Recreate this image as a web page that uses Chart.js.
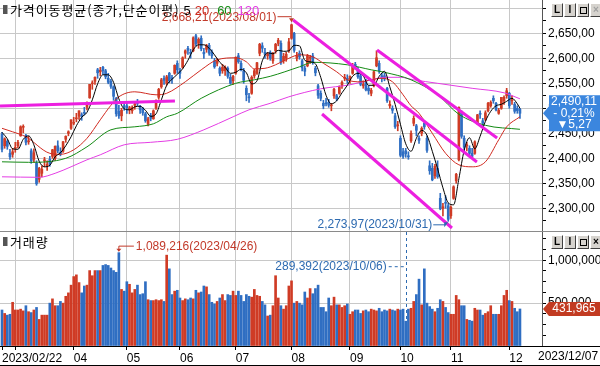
<!DOCTYPE html>
<html>
<head>
<meta charset="utf-8">
<script src="https://cdn.jsdelivr.net/npm/chart.js@4.4.1/dist/chart.umd.min.js"></script>
<style>
  body { margin: 0; background: #fff; }
  #wrap { position: relative; width: 600px; height: 366px; overflow: hidden; background: #fff;
          font-family: "Liberation Sans", Arial, sans-serif; }
  canvas { position: absolute; left: 0; }
  #priceCanvas { top: 0; }
  #volCanvas { top: 231px; }
  .hline { position: absolute; left: 0; width: 600px; height: 1px; background: #8a8a8a; z-index: 3; }
  .title { position: absolute; left: 10px; font: 13px/13px "Noto Sans CJK KR", sans-serif; letter-spacing: 0.9px; color: #000; z-index: 3; white-space: nowrap; }
  .title .n { font: 13px/13px "Liberation Sans", sans-serif; letter-spacing: 0; margin-left: 4px; }
  .icon { position: absolute; left: 3px; width: 4px; height: 9px; background: #555; border-right: 1px solid #aaa; z-index: 3; }
  .btns { position: absolute; left: 551px; display: flex; z-index: 3; }
  .btns span { width: 10px; height: 12px; margin-right: 1px; background: #d6d3ce; border: 1px solid;
               border-color: #fff #404040 #404040 #fff; font: bold 10px/12px "Liberation Sans", sans-serif;
               text-align: center; color: #000; position: relative; }
  .btns span.sq::after { content: ""; position: absolute; left: 2px; top: 3px; width: 5px; height: 5px; border: 1px solid #000; }
  .btns span.dim { color: #a0a0a0; }
  #endDate { position: absolute; left: 538px; top: 349px; font-size: 12px; color: #000; z-index: 3; }
</style>
</head>
<body>
<div id="wrap">
  <canvas id="priceCanvas" width="600" height="231"></canvas>
  <canvas id="volCanvas" width="600" height="135"></canvas>

  <div class="icon" style="top:5px"></div>
  <div class="title" style="top:3px">가격이동평균(종가,단순이평)<span class="n">5</span><span class="n" style="color:#d02a20">20</span><span class="n" style="color:#138a13;margin-left:8px">60</span><span class="n" style="color:#e43ce4;margin-left:6px">120</span></div>
  <div class="btns" style="top:3px"><span>L</span><span>I</span><span class="sq"></span><span class="dim">×</span></div>

  <div class="hline" style="top:231px"></div>
  <div class="icon" style="top:237px"></div>
  <div class="title" style="top:235px">거래량</div>
  <div class="btns" style="top:235px"><span>L</span><span>I</span><span class="sq"></span><span>×</span></div>

  <div class="hline" style="top:346px;background:#000"></div>
  <div class="hline" style="top:365px;background:#000"></div>
  <div id="endDate">2023/12/07</div>
</div>

<script>
// trading days, month by month
const tradingDays = [
  ['2023/02', [22,23,24,27,28]],
  ['2023/03', [2,3,6,7,8,9,10,13,14,15,16,17,20,21,22,23,24,27,28,29,30,31]],
  ['2023/04', [3,4,5,6,7,10,11,12,13,14,17,18,19,20,21,24,25,26,27,28]],
  ['2023/05', [2,3,4,8,9,10,11,12,15,16,17,18,19,22,23,24,25,26,30,31]],
  ['2023/06', [1,2,5,7,8,9,12,13,14,15,16,19,20,21,22,23,26,27,28,29,30]],
  ['2023/07', [3,4,5,6,7,10,11,12,13,14,17,18,19,20,21,24,25,26,27,28,31]],
  ['2023/08', [1,2,3,4,7,8,9,10,11,14,16,17,18,21,22,23,24,25,28,29,30,31]],
  ['2023/09', [1,4,5,6,7,8,11,12,13,14,15,18,19,20,21,22,25,26,27]],
  ['2023/10', [4,5,6,10,11,12,13,16,17,18,19,20,23,24,25,26,27,30,31]],
  ['2023/11', [1,2,3,6,7,8,9,10,13,14,15,16,17,20,21,22,23,24,27,28,29,30]],
  ['2023/12', [1,4,5,6,7]]
];

const opens = [
  2448,2425,2434,2410,2408,2420,2425,2445,2462,2446, 2433,2415,2398,2390,2358,2370,2395,2385,2398,2404,
  2400,2425,2412,2414,2438,2450,2460,2470,2479,2484, 2487,2492,2502,2521,2549,2554,2577,2573,2582,2575,
  2560,2554,2543,2520,2494,2485,2505,2505,2497,2495, 2506,2512,2504,2499,2489,2468,2485,2479,2500,2522,
  2543,2560,2550,2570,2560,2570,2590,2575,2582,2610, 2620,2612,2615,2645,2630,2640,2612,2618,2626,2612,
  2595,2590,2580,2575,2575,2580,2562,2555,2570,2605, 2590,2575,2540,2522,2530,2565,2570,2610,2625,2612,
  2605,2612,2595,2615,2630,2630,2595,2600,2615,2640, 2650,2600,2610,2595,2580,2585,2600,2605,2580,2545,
  2530,2510,2510,2512,2505,2525,2525,2530,2545,2560, 2560,2558,2570,2588,2578,2565,2545,2553,2540,2530,
  2545,2585,2590,2565,2565,2540,2505,2500,2485,2465, 2440,2413,2415,2405,2435,2470,2465,2440,2450,2470,
  2440,2385,2380,2365,2380,2320,2300,2312,2305,2285, 2320,2355,2397,2490,2440,2425,2420,2410,2410,2470,
  2490,2475,2478,2495,2505,2520,2510,2490,2500,2515, 2525,2530,2515,2508,2500,2498
];
const highs = [
  2452,2441,2437,2418,2420,2432,2436,2465,2467,2448, 2444,2419,2419,2395,2382,2385,2402,2395,2404,2418,
  2425,2435,2421,2434,2445,2455,2477,2482,2490,2495, 2491,2502,2513,2548,2555,2563,2580,2582,2584,2578,
  2570,2558,2545,2522,2506,2500,2510,2510,2504,2505, 2512,2518,2506,2502,2492,2482,2490,2497,2517,2540,
  2560,2565,2566,2572,2566,2587,2595,2580,2603,2617, 2624,2618,2643,2648,2641,2645,2620,2628,2630,2617,
  2600,2600,2583,2588,2585,2583,2568,2566,2603,2610, 2595,2580,2545,2530,2565,2578,2592,2630,2631,2620,
  2612,2615,2612,2630,2640,2635,2610,2612,2640,2668.21, 2652,2612,2615,2598,2585,2608,2606,2610,2584,2548,
  2535,2516,2520,2518,2510,2540,2528,2545,2555,2568, 2567,2565,2590,2592,2582,2568,2555,2558,2545,2540,
  2575,2615,2595,2570,2570,2542,2515,2505,2490,2474, 2445,2420,2420,2413,2455,2485,2468,2445,2463,2475,
  2445,2395,2390,2388,2395,2330,2310,2325,2310,2305, 2345,2370,2503,2495,2445,2432,2425,2420,2435,2488,
  2495,2480,2495,2512,2515,2525,2512,2500,2522,2525, 2540,2532,2525,2512,2505,2500
];
const lows = [
  2413,2420,2418,2398,2402,2412,2421,2444,2451,2427, 2428,2390,2392,2346,2352,2363,2383,2376,2384,2400,
  2396,2411,2405,2412,2432,2445,2458,2467,2473,2478, 2476,2487,2497,2520,2538,2548,2560,2565,2568,2559,
  2549,2540,2516,2484,2480,2475,2496,2490,2489,2490, 2498,2505,2490,2486,2472,2465,2475,2478,2498,2518,
  2540,2548,2546,2551,2550,2568,2570,2560,2580,2600, 2608,2600,2613,2625,2620,2615,2600,2612,2606,2600,
  2580,2585,2565,2570,2566,2560,2548,2548,2568,2590, 2575,2550,2515,2512,2528,2560,2568,2605,2612,2600,
  2598,2596,2590,2610,2625,2588,2590,2594,2612,2638, 2612,2595,2598,2575,2565,2583,2590,2588,2565,2520,
  2515,2499,2505,2502,2495,2520,2515,2528,2540,2555, 2550,2550,2568,2578,2560,2545,2540,2535,2528,2525,
  2543,2583,2570,2553,2555,2512,2500,2490,2460,2455, 2403,2400,2402,2398,2432,2465,2445,2430,2445,2458,
  2412,2368,2355,2360,2360,2297,2285,2300,2273.97,2280, 2318,2350,2395,2440,2415,2415,2405,2400,2408,2468,
  2480,2465,2475,2493,2502,2510,2495,2488,2498,2508, 2520,2500,2508,2490,2490,2480
];
const closes = [
  2418,2439,2424,2403,2413,2420,2432,2463,2463,2432, 2433,2395,2411,2349,2380,2378,2396,2388,2389,2417,
  2424,2415,2409,2433,2444,2453,2477,2472,2480,2495, 2484,2490,2512,2548,2551,2562,2571,2576,2575,2563,
  2552,2544,2524,2489,2485,2496,2502,2501,2501,2501, 2509,2510,2497,2491,2475,2479,2480,2495,2515,2538,
  2557,2556,2563,2555,2559,2586,2577,2570,2601,2615, 2616,2610,2641,2629,2638,2619,2609,2626,2610,2605,
  2583,2594,2570,2582,2582,2564,2550,2564,2602,2593, 2579,2556,2527,2521,2562,2575,2591,2628,2620,2608,
  2608,2600,2610,2628,2636,2592,2604,2608,2633,2667, 2616,2605,2603,2581,2574,2605,2602,2591,2571,2526,
  2520,2505,2509,2506,2505,2538,2519,2543,2552,2561, 2556,2564,2585,2582,2563,2548,2548,2537,2535,2536,
  2573,2601,2575,2560,2559,2515,2508,2496,2463,2465, 2406,2404,2409,2403,2450,2480,2456,2436,2460,2463,
  2416,2375,2357,2384,2363,2299,2303,2310,2278,2302, 2343,2368,2502,2444,2422,2427,2410,2404,2433,2487,
  2488,2470,2491,2510,2512,2515,2497,2496,2522,2522, 2535,2505,2515,2494,2495.38,2490.11
];
// volume, thousand shares
const volumes = [
  420,380,360,370,510,420,420,430,410,470, 400,390,420,450,310,360,360,360,500,550,
  470,470,520,500,580,620,710,810,830,740, 620,700,710,880,820,880,880,880,940,950,
  940,910,880,860,1089.216,660,640,750,720,620, 660,710,600,610,750,540,530,530,540,530,
  540,520,1060,900,600,640,650,560,530,550, 540,560,550,650,620,630,700,690,600,510,
  490,520,560,600,530,600,590,640,590,640, 590,520,600,580,570,660,590,580,520,480,
  350,360,470,820,560,470,430,470,700,760, 500,520,500,480,630,560,670,610,670,710,
  450,450,400,560,470,570,480,480,450,470, 490,370,400,420,420,380,410,420,400,430,
  420,410,440,400,420,410,430,420,410,430, 420,430,289.392,430,440,520,600,780,480,900,
  500,460,430,400,440,540,520,450,390,370, 370,590,540,470,470,310,300,290,440,420,
  420,360,380,400,470,370,370,370,470,590, 650,530,520,440,400,431.965
];

// moving averages: [day index, value]
const ma5Pts = [
  [0,2452],[2,2439],[4,2419],[6,2418],[8,2438],[10,2445],[12,2427],[14,2394],[16,2383],[18,2386],
  [20,2403],[22,2411],[24,2425],[26,2443],[28,2465],[30,2482],[32,2492],[34,2517],[36,2549],[38,2567],
  [40,2567],[42,2552],[44,2519],[46,2499],[48,2497],[50,2503],[52,2504],[54,2496],[56,2484],[58,2489],
  [60,2517],[62,2546],[64,2558],[66,2568],[68,2579],[70,2596],[72,2617],[74,2627],[76,2627],[78,2620],
  [80,2607],[82,2592],[84,2582],[86,2570],[88,2572],[90,2578],[92,2571],[94,2549],[96,2555],[98,2595],
  [100,2611],[102,2609],[104,2616],[106,2614],[108,2615],[110,2626],[112,2625],[114,2596],[116,2593],[118,2589],
  [120,2562],[122,2526],[124,2509],[126,2515],[128,2531],[130,2546],[132,2564],[134,2570],[136,2565],[138,2546],
  [140,2546],[142,2564],[144,2574],[146,2543],[148,2508],[150,2468],[152,2429],[154,2414],[156,2440],[158,2456],
  [160,2446],[162,2414],[164,2379],[166,2341],[168,2311],[170,2307],[172,2359],[174,2416],[176,2441],[178,2419],
  [180,2444],[182,2474],[184,2494],[186,2505],[188,2508],[190,2514],[192,2520],[194,2509],[195,2500]
];
const ma20Pts = [
  [0,2460],[4,2453],[9,2443],[18,2410],[22,2408],[27,2417],[32,2440],[37,2477],[41,2506],[44,2523],
  [50,2533],[58,2527],[62,2530],[69,2553],[75,2577],[81,2597],[88,2601],[92,2593],[95,2579],[99,2580],
  [103,2587],[108,2600],[112,2607],[117,2603],[121,2590],[126,2573],[130,2557],[135,2553],[139,2557],[143,2560],
  [147,2553],[151,2527],[154,2505],[157,2490],[162,2450],[167,2410],[172,2387],[177,2383],[182,2393],[187,2437],
  [190,2463],[195,2483]
];
const ma60Pts = [
  [0,2393],[10,2392],[24,2400],[32,2423],[41,2457],[50,2463],[57,2469],[62,2483],[66,2490],[75,2520],
  [88,2550],[95,2557],[101,2564],[112,2583],[117,2592],[130,2587],[139,2577],[144,2572],[154,2557],[164,2527],
  [172,2488],[182,2466],[195,2458]
];
const ma120Pts = [
  [0,2363],[14,2362],[20,2370],[26,2383],[32,2397],[37,2407],[46,2427],[56,2432],[66,2438],[76,2457],
  [87,2483],[93,2497],[101,2510],[108,2523],[120,2539],[131,2547],[139,2557],[144,2562],[150,2562],[155,2557],
  [164,2550],[177,2540],[189,2531],[195,2519]
];

// hand-drawn trend lines: [startIdx, startPrice, endIdx, endPrice]
const trendLines = [
  [-0.75, 2504.6, 65.1, 2514.6],
  [109.6, 2676.6, 178.8, 2392.6],
  [120.5, 2488.6, 169.4, 2260.6],
  [141.2, 2616.6, 186.4, 2440.6]
];

const UP = '#cf3b25', DOWN = '#2f6ec2';
const GRID = '#c8c8c8';

const dates = tradingDays.flatMap(([ym, days]) => days.map(d => ym + '/' + String(d).padStart(2, '0')));
const dayIdx = dates.map((_, i) => i);
const monthStarts = [0].concat(tradingDays.slice(1).map(([ym]) => dates.findIndex(s => s.startsWith(ym))));
const candleColors = closes.map((c, i) => c >= opens[i] ? UP : DOWN);

const fmt2 = v => v.toLocaleString('en-US', {minimumFractionDigits: 2, maximumFractionDigits: 2}).replace('.', ',');
const fmtVol = v => Math.round(v * 1000).toLocaleString('en-US');

const X_MIN = -0.753, X_MAX = 203.3;

Chart.defaults.font.family = '"Liberation Sans", Arial, sans-serif';
Chart.defaults.font.size = 12;
Chart.defaults.color = '#000';
Chart.defaults.animation = false;
Chart.defaults.plugins.legend.display = false;
Chart.defaults.plugins.tooltip.enabled = false;

const noPad = s => { s.paddingTop = 0; s.paddingBottom = 0; s.paddingLeft = 0; s.paddingRight = 0; };

function yAxisFit(s) { s.width = 58; noPad(s); }

function drawBadge(ctx, right, yc, h, color, lines) {
  const l = right + 7;
  ctx.fillStyle = color;
  ctx.beginPath();
  ctx.moveTo(right + 1, yc);
  ctx.lineTo(l, yc - 7);
  ctx.lineTo(l, yc - h / 2);
  ctx.lineTo(600, yc - h / 2);
  ctx.lineTo(600, yc + h / 2);
  ctx.lineTo(l, yc + h / 2);
  ctx.lineTo(l, yc + 7);
  ctx.closePath();
  ctx.fill();
  ctx.fillStyle = '#fff';
  ctx.font = '12px "Liberation Sans"';
  ctx.textAlign = 'center';
  ctx.textBaseline = 'middle';
  lines.forEach(([t, dy]) => ctx.fillText(t, 574, yc + dy));
}

const priceNotes = {
  id: 'priceNotes',
  afterDatasetsDraw(chart) {
    const {ctx, scales: {x, y}} = chart;
    ctx.save();
    ctx.font = '12px "Liberation Sans"';
    ctx.textBaseline = 'middle';
    ctx.lineWidth = 1;

    const hiVal = Math.max(...highs), hiIdx = highs.indexOf(hiVal);
    const hx = x.getPixelForValue(hiIdx), hy = y.getPixelForValue(hiVal);
    ctx.fillStyle = ctx.strokeStyle = '#c23a2a';
    ctx.textAlign = 'right';
    ctx.fillText(fmt2(hiVal) + '(' + dates[hiIdx] + ')', hx - 15, hy - 7);
    ctx.beginPath(); ctx.moveTo(hx - 14, hy - 7.5); ctx.lineTo(hx, hy - 7.5); ctx.stroke();
    ctx.beginPath(); ctx.moveTo(hx - 2.5, hy - 6); ctx.lineTo(hx + 2.5, hy - 6); ctx.lineTo(hx, hy - 2); ctx.fill();

    const loVal = Math.min(...lows), loIdx = lows.indexOf(loVal);
    const lx = x.getPixelForValue(loIdx), ly = y.getPixelForValue(loVal);
    ctx.fillStyle = ctx.strokeStyle = '#2d6ab0';
    ctx.fillText(fmt2(loVal) + '(' + dates[loIdx] + ')', lx - 16, ly + 3.5);
    ctx.beginPath(); ctx.moveTo(lx - 15, ly + 3.5); ctx.lineTo(lx - 3, ly + 3.5); ctx.stroke();
    ctx.beginPath(); ctx.moveTo(lx - 4, ly + 1); ctx.lineTo(lx - 4, ly + 6); ctx.lineTo(lx, ly + 1); ctx.fill();
    ctx.restore();
  },
  afterDraw(chart) {
    const {ctx, chartArea, scales: {y}} = chart;
    const last = closes[closes.length - 1], prev = closes[closes.length - 2];
    const chg = last - prev, pct = chg / prev * 100;
    const sign = chg < 0 ? '- ' : '+ ';
    const arrow = chg < 0 ? '\u25BC' : '\u25B2';
    ctx.save();
    drawBadge(ctx, chartArea.right, y.getPixelForValue(last), 36, '#3b86de', [
      [fmt2(last), -12],
      [sign + Math.abs(pct).toFixed(2).replace('.', ',') + '%', 0],
      [arrow + Math.abs(chg).toFixed(2).replace('.', ','), 11]
    ]);
    ctx.restore();
  }
};

const volNotes = {
  id: 'volNotes',
  afterDatasetsDraw(chart) {
    const {ctx, chartArea, scales: {x, y}} = chart;
    ctx.save();
    ctx.font = '12px "Liberation Sans"';
    ctx.textBaseline = 'middle';
    ctx.lineWidth = 1;

    const maxV = Math.max(...volumes), maxI = volumes.indexOf(maxV);
    const mx = x.getPixelForValue(maxI), my = y.getPixelForValue(maxV);
    ctx.fillStyle = ctx.strokeStyle = '#c23a2a';
    ctx.beginPath(); ctx.moveTo(mx, my - 6.5); ctx.lineTo(mx + 15, my - 6.5); ctx.moveTo(mx, my - 6.5); ctx.lineTo(mx, my - 3); ctx.stroke();
    ctx.beginPath(); ctx.moveTo(mx - 2.5, my - 4); ctx.lineTo(mx + 2.5, my - 4); ctx.lineTo(mx, my - 1); ctx.fill();
    ctx.textAlign = 'left';
    ctx.fillText(fmtVol(maxV) + '(' + dates[maxI] + ')', mx + 17, my - 6);

    const minV = Math.min(...volumes), minI = volumes.indexOf(minV);
    const nx = x.getPixelForValue(minI), ny = y.getPixelForValue(minV);
    const ty = ny - 55;
    ctx.fillStyle = ctx.strokeStyle = '#2d6ab0';
    ctx.textAlign = 'right';
    ctx.fillText(fmtVol(minV) + '(' + dates[minI] + ')', nx - 19, ty);
    ctx.setLineDash([3, 3]);
    ctx.beginPath(); ctx.moveTo(nx - 17, ty + 0.5); ctx.lineTo(nx, ty + 0.5); ctx.stroke();
    ctx.beginPath(); ctx.moveTo(Math.round(nx) + 0.5, chartArea.top); ctx.lineTo(Math.round(nx) + 0.5, ny); ctx.stroke();
    ctx.restore();
  },
  afterDraw(chart) {
    const {ctx, chartArea, scales: {y}} = chart;
    const last = volumes[volumes.length - 1];
    ctx.save();
    drawBadge(ctx, chartArea.right, y.getPixelForValue(last), 14, '#c23b22', [[fmtVol(last), 0]]);
    ctx.restore();
  }
};

const lineDs = (pts, color, order) => ({
  type: 'line', data: pts.map(([x, y]) => ({x, y})), borderColor: color, borderWidth: 1,
  pointRadius: 0, cubicInterpolationMode: 'monotone', order
});

new Chart(document.getElementById('priceCanvas'), {
  type: 'bar',
  data: {
    datasets: [
      ...trendLines.map(t => ({
        type: 'line', data: [{x: t[0], y: t[1]}, {x: t[2], y: t[3]}],
        borderColor: '#ec1fe0', borderWidth: 3, pointRadius: 0, order: 0
      })),
      lineDs(ma5Pts, '#000000', 1),
      lineDs(ma20Pts, '#d02a20', 2),
      lineDs(ma60Pts, '#138a13', 3),
      lineDs(ma120Pts, '#e43ce4', 4),
      {
        type: 'bar', data: dayIdx.map(i => ({x: i, y: [opens[i], closes[i]]})),
        backgroundColor: candleColors, barThickness: 2, minBarLength: 1, grouped: false, order: 5
      },
      {
        type: 'bar', data: dayIdx.map(i => ({x: i, y: [lows[i], highs[i]]})),
        backgroundColor: candleColors, barThickness: 1, grouped: false, order: 6
      }
    ]
  },
  options: {
    responsive: false,
    devicePixelRatio: 1,
    layout: { padding: 0 },
    scales: {
      x: {
        type: 'linear', min: X_MIN, max: X_MAX, offset: false,
        afterBuildTicks: s => { s.ticks = monthStarts.map(v => ({value: v})); },
        afterFit: s => { s.height = 0; noPad(s); },
        ticks: { display: false },
        grid: { color: c => c.tick && c.tick.value === 0 ? 'transparent' : GRID, drawTicks: false, offset: false },
        border: { display: false }
      },
      y: {
        type: 'linear', position: 'right', min: 2254.6, max: 2716.6,
        afterBuildTicks: s => { const t = []; for (let v = 2275; v <= 2700; v += 25) t.push({value: v}); s.ticks = t; },
        afterFit: yAxisFit,
        ticks: {
          padding: 2, autoSkip: false,
          callback: v => (v % 50 === 0 && v <= 2650) ? fmt2(v) : ''
        },
        grid: { color: c => c.tick && c.tick.value % 50 === 0 ? GRID : 'transparent', tickColor: '#000', tickLength: 4 },
        border: { color: '#555' }
      }
    }
  },
  plugins: [priceNotes]
});

new Chart(document.getElementById('volCanvas'), {
  type: 'bar',
  data: {
    datasets: [{
      data: dayIdx.map(i => ({x: i, y: volumes[i]})),
      backgroundColor: candleColors, barThickness: 2, grouped: false
    }]
  },
  options: {
    responsive: false,
    devicePixelRatio: 1,
    layout: { padding: { top: 1, left: 0, right: 0, bottom: 0 } },
    scales: {
      x: {
        type: 'linear', min: X_MIN, max: X_MAX, offset: false,
        afterBuildTicks: s => { s.ticks = monthStarts.map(v => ({value: v})); },
        afterFit: s => { s.height = 20; noPad(s); },
        ticks: {
          align: 'start', maxRotation: 0, minRotation: 0, autoSkip: false, padding: 1,
          callback: v => {
            const d = dates[v];
            if (v === 0) return d;
            const m = d.slice(5, 7);
            return m === '03' ? '' : m;
          }
        },
        grid: { color: c => c.tick && c.tick.value === 0 ? 'transparent' : GRID, tickColor: '#000', tickLength: 4, offset: false },
        border: { color: '#000' }
      },
      y: {
        type: 'linear', position: 'right', min: 0, max: 1330,
        afterBuildTicks: s => { const t = []; for (let v = 0; v <= 1250; v += 125) t.push({value: v}); s.ticks = t; },
        afterFit: yAxisFit,
        ticks: { padding: 2, autoSkip: false, callback: v => (v === 500 || v === 1000) ? fmtVol(v) : '' },
        grid: { color: c => c.tick && (c.tick.value === 500 || c.tick.value === 1000) ? GRID : 'transparent', tickColor: '#000', tickLength: 4 },
        border: { color: '#555' }
      }
    }
  },
  plugins: [volNotes]
});
</script>
</body>
</html>
